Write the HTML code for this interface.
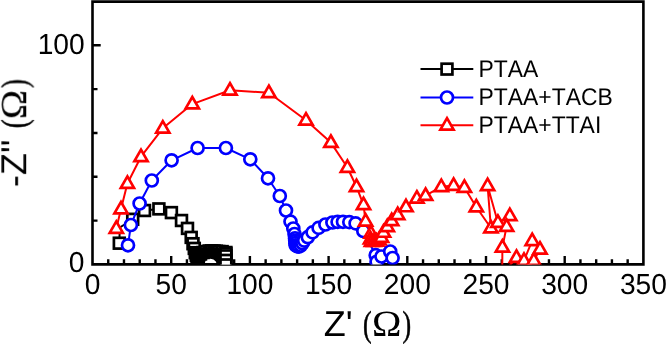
<!DOCTYPE html>
<html><head><meta charset="utf-8"><title>Nyquist plot</title>
<style>
html,body{margin:0;padding:0;background:#fff;}
body{width:666px;height:344px;overflow:hidden;}
svg{display:block;text-rendering:geometricPrecision;}
svg text{will-change:transform;font-kerning:none;font-feature-settings:"kern" 0;}
.s{font-family:"Liberation Sans",sans-serif;}
.r{font-family:"Liberation Serif",serif;}
</style></head><body>
<svg width="666" height="344" viewBox="0 0 666 344">
<defs><clipPath id="pc"><rect x="92" y="2" width="551" height="262.4"/></clipPath></defs>

<g stroke="#000" stroke-width="2.6" fill="none" stroke-linecap="butt">
<path d="M92.5 1.6H643.4V264.4H92.5Z" stroke-linejoin="miter"/>
<path d="M108.24 264.4v-5.2M123.98 264.4v-5.2M139.72 264.4v-5.2M155.46 264.4v-5.2M171.2 264.4v-8.4M186.94 264.4v-5.2M202.68 264.4v-5.2M218.42 264.4v-5.2M234.16 264.4v-5.2M249.9 264.4v-8.4M265.64 264.4v-5.2M281.38 264.4v-5.2M297.12 264.4v-5.2M312.86 264.4v-5.2M328.6 264.4v-8.4M344.34 264.4v-5.2M360.08 264.4v-5.2M375.82 264.4v-5.2M391.56 264.4v-5.2M407.3 264.4v-8.4M423.04 264.4v-5.2M438.78 264.4v-5.2M454.52 264.4v-5.2M470.26 264.4v-5.2M486 264.4v-8.4M501.74 264.4v-5.2M517.48 264.4v-5.2M533.22 264.4v-5.2M548.96 264.4v-5.2M564.7 264.4v-8.4M580.44 264.4v-5.2M596.18 264.4v-5.2M611.92 264.4v-5.2M627.66 264.4v-5.2M92.5 220.58h5.0M92.5 176.76h5.0M92.5 132.94h5.0M92.5 89.12h5.0M92.5 45.3h8.2" stroke-width="2.4"/>
</g>
<g clip-path="url(#pc)">
<polyline points="119.3,243.2 119.8,227.5 132.7,219.3 144.5,210.5 158.9,208.9 171.4,212.6 181.5,220.5 187.5,228.4 191.2,237.4 193,243.7 194.3,248.4 195.3,252.7 196.3,255.2 197.3,257.2 197.8,256.6 200.5,254 203,252.5 205.8,251.5 209.2,251 211.6,250.9 214,251 216.4,251.2 218.8,251.5 222.1,251.6 223.5,255.5 225.9,252.5 225.9,253.6 225.9,255.9 225.9,260.4 225.9,264.9" fill="none" stroke="#000" stroke-width="2.0" stroke-linejoin="round"/>
<g fill="#fff" stroke="#000" stroke-width="2.7" stroke-linejoin="miter">
<rect x="113.9" y="237.8" width="10.8" height="10.8"/>
<rect x="127.3" y="213.9" width="10.8" height="10.8"/>
<rect x="139.1" y="205.1" width="10.8" height="10.8"/>
<rect x="153.5" y="203.5" width="10.8" height="10.8"/>
<rect x="166" y="207.2" width="10.8" height="10.8"/>
<rect x="176.1" y="215.1" width="10.8" height="10.8"/>
<rect x="182.1" y="223" width="10.8" height="10.8"/>
<rect x="185.8" y="232" width="10.8" height="10.8"/>
<rect x="187.6" y="238.3" width="10.8" height="10.8"/>
<rect x="188.9" y="243" width="10.8" height="10.8"/>
<rect x="189.9" y="247.3" width="10.8" height="10.8"/>
<rect x="190.9" y="249.8" width="10.8" height="10.8"/>
<rect x="191.9" y="251.8" width="10.8" height="10.8"/>
<rect x="192.4" y="251.2" width="10.8" height="10.8"/>
<rect x="195.1" y="248.6" width="10.8" height="10.8"/>
<rect x="197.6" y="247.1" width="10.8" height="10.8"/>
<rect x="200.4" y="246.1" width="10.8" height="10.8"/>
<rect x="203.8" y="245.6" width="10.8" height="10.8"/>
<rect x="206.2" y="245.5" width="10.8" height="10.8"/>
<rect x="208.6" y="245.6" width="10.8" height="10.8"/>
<rect x="211" y="245.8" width="10.8" height="10.8"/>
<rect x="213.4" y="246.1" width="10.8" height="10.8"/>
<rect x="216.7" y="246.2" width="10.8" height="10.8"/>
<rect x="218.1" y="250.1" width="10.8" height="10.8"/>
<rect x="220.5" y="247.1" width="10.8" height="10.8"/>
<rect x="220.5" y="248.2" width="10.8" height="10.8"/>
<rect x="220.5" y="250.5" width="10.8" height="10.8"/>
<rect x="220.5" y="255" width="10.8" height="10.8"/>
<rect x="220.5" y="259.5" width="10.8" height="10.8"/>
</g>
<path d="M190.5 247.2H219.1V264H216.8L215.8 261.6L213.5 259.6L210.5 258.7L207.5 259L205.6 260.6L204.6 264H190.5Z" fill="#000"/>
<polyline points="128,245.3 130.9,225 139.6,203.5 151.8,180.5 171.6,160.3 197.6,148 225.9,148 250.3,159.3 268,178.3 279.8,196 286,210.5 290.5,221.6 293.3,228.5 294.5,234 295,238.3 295.2,240.8 295.4,243.2 295.7,245.3 297.2,246.3 299,246.6 300.8,245.5 302.5,243.2 304.2,240.6 307.8,237.2 312.6,232.4 318.6,227.9 325.4,224.5 332.4,222.5 337.6,221.9 343,221.8 349.3,222.1 355.6,223.4 363.3,231 375.7,255.2 376.6,261.8 381.5,256.5 390.2,251.5 392.6,258" fill="none" stroke="#00f" stroke-width="2.0" stroke-linejoin="round"/>
<g fill="#fff" stroke="#00f" stroke-width="2.7" stroke-linejoin="miter">
<circle cx="128" cy="245.3" r="6.0"/>
<circle cx="130.9" cy="225" r="6.0"/>
<circle cx="139.6" cy="203.5" r="6.0"/>
<circle cx="151.8" cy="180.5" r="6.0"/>
<circle cx="171.6" cy="160.3" r="6.0"/>
<circle cx="197.6" cy="148" r="6.0"/>
<circle cx="225.9" cy="148" r="6.0"/>
<circle cx="250.3" cy="159.3" r="6.0"/>
<circle cx="268" cy="178.3" r="6.0"/>
<circle cx="279.8" cy="196" r="6.0"/>
<circle cx="286" cy="210.5" r="6.0"/>
<circle cx="290.5" cy="221.6" r="6.0"/>
<circle cx="293.3" cy="228.5" r="6.0"/>
<circle cx="294.5" cy="234" r="6.0"/>
<circle cx="295" cy="238.3" r="6.0"/>
<circle cx="295.2" cy="240.8" r="6.0"/>
<circle cx="295.4" cy="243.2" r="6.0"/>
<circle cx="295.7" cy="245.3" r="6.0"/>
<circle cx="297.2" cy="246.3" r="6.0"/>
<circle cx="299" cy="246.6" r="6.0"/>
<circle cx="300.8" cy="245.5" r="6.0"/>
<circle cx="302.5" cy="243.2" r="6.0"/>
<circle cx="304.2" cy="240.6" r="6.0"/>
<circle cx="307.8" cy="237.2" r="6.0"/>
<circle cx="312.6" cy="232.4" r="6.0"/>
<circle cx="318.6" cy="227.9" r="6.0"/>
<circle cx="325.4" cy="224.5" r="6.0"/>
<circle cx="332.4" cy="222.5" r="6.0"/>
<circle cx="337.6" cy="221.9" r="6.0"/>
<circle cx="343" cy="221.8" r="6.0"/>
<circle cx="349.3" cy="222.1" r="6.0"/>
<circle cx="355.6" cy="223.4" r="6.0"/>
<circle cx="363.3" cy="231" r="6.0"/>
<circle cx="375.7" cy="255.2" r="6.0"/>
<circle cx="376.6" cy="261.8" r="6.0"/>
<circle cx="381.5" cy="256.5" r="6.0"/>
<circle cx="390.2" cy="251.5" r="6.0"/>
<circle cx="392.6" cy="258" r="6.0"/>
</g>
<polyline points="116.3,228.5 121,209 127.4,183.5 141,156.7 162.8,128.3 192.3,104.1 230,90.3 268.9,92.8 306,120.2 330.9,142.6 347.4,167.5 356.5,186.7 363.5,204.8 365.6,221.3 371,233.3 370.5,239 371.5,241.6 374,241.6 376.5,241.2 379,240 381.5,237.6 383.5,232.4 387.3,226.7 391.7,220.8 397.7,214.8 406,206.9 416.9,198.2 425.6,195.6 441.3,186.7 453.6,185.5 464.4,187.5 476.3,207 490.9,228 487.6,185.8 497.9,222.5 509.8,215.8 506.6,226.5 502.4,247.2 502.2,274.5 516.5,257.5 524,260.5 532.2,240.7 540,249.3 533.8,260.5" fill="none" stroke="#f00" stroke-width="2.0" stroke-linejoin="round"/>
<g fill="#fff" stroke="#f00" stroke-width="2.7" stroke-linejoin="miter">
<path d="M116.3 221.4L122.9 232.85H109.7Z"/>
<path d="M121 201.9L127.6 213.35H114.4Z"/>
<path d="M127.4 176.4L134 187.85H120.8Z"/>
<path d="M141 149.6L147.6 161.05H134.4Z"/>
<path d="M162.8 121.2L169.4 132.65H156.2Z"/>
<path d="M192.3 97L198.9 108.45H185.7Z"/>
<path d="M230 83.2L236.6 94.65H223.4Z"/>
<path d="M268.9 85.7L275.5 97.15H262.3Z"/>
<path d="M306 113.1L312.6 124.55H299.4Z"/>
<path d="M330.9 135.5L337.5 146.95H324.3Z"/>
<path d="M347.4 160.4L354 171.85H340.8Z"/>
<path d="M356.5 179.6L363.1 191.05H349.9Z"/>
<path d="M363.5 197.7L370.1 209.15H356.9Z"/>
<path d="M365.6 214.2L372.2 225.65H359Z"/>
<path d="M371 226.2L377.6 237.65H364.4Z"/>
<path d="M370.5 231.9L377.1 243.35H363.9Z"/>
<path d="M371.5 234.5L378.1 245.95H364.9Z"/>
<path d="M374 234.5L380.6 245.95H367.4Z"/>
<path d="M376.5 234.1L383.1 245.55H369.9Z"/>
<path d="M379 232.9L385.6 244.35H372.4Z"/>
<path d="M381.5 230.5L388.1 241.95H374.9Z"/>
<path d="M383.5 225.3L390.1 236.75H376.9Z"/>
<path d="M387.3 219.6L393.9 231.05H380.7Z"/>
<path d="M391.7 213.7L398.3 225.15H385.1Z"/>
<path d="M397.7 207.7L404.3 219.15H391.1Z"/>
<path d="M406 199.8L412.6 211.25H399.4Z"/>
<path d="M416.9 191.1L423.5 202.55H410.3Z"/>
<path d="M425.6 188.5L432.2 199.95H419Z"/>
<path d="M441.3 179.6L447.9 191.05H434.7Z"/>
<path d="M453.6 178.4L460.2 189.85H447Z"/>
<path d="M464.4 180.4L471 191.85H457.8Z"/>
<path d="M476.3 199.9L482.9 211.35H469.7Z"/>
<path d="M490.9 220.9L497.5 232.35H484.3Z"/>
<path d="M487.6 178.7L494.2 190.15H481Z"/>
<path d="M497.9 215.4L504.5 226.85H491.3Z"/>
<path d="M509.8 208.7L516.4 220.15H503.2Z"/>
<path d="M506.6 219.4L513.2 230.85H500Z"/>
<path d="M502.4 240.1L509 251.55H495.8Z"/>
<path d="M502.2 267.4L508.8 278.85H495.6Z"/>
<path d="M516.5 250.4L523.1 261.85H509.9Z"/>
<path d="M524 253.4L530.6 264.85H517.4Z"/>
<path d="M532.2 233.6L538.8 245.05H525.6Z"/>
<path d="M540 242.2L546.6 253.65H533.4Z"/>
<path d="M533.8 253.4L540.4 264.85H527.2Z"/>
</g>
</g>
<g class="s" font-size="28.2" fill="#000" text-anchor="middle">
<text transform="translate(92.5,294.2) scale(1,1.025)">0</text>
<text transform="translate(171.2,294.2) scale(1,1.025)">50</text>
<text transform="translate(249.9,294.2) scale(1,1.025)">100</text>
<text transform="translate(328.6,294.2) scale(1,1.025)">150</text>
<text transform="translate(407.3,294.2) scale(1,1.025)">200</text>
<text transform="translate(486,294.2) scale(1,1.025)">250</text>
<text transform="translate(564.7,294.2) scale(1,1.025)">300</text>
<text transform="translate(643.4,294.2) scale(1,1.025)">350</text>
</g>
<g class="s" font-size="28.2" fill="#000" text-anchor="end">
<text transform="translate(84.7,53.8) scale(1,1.025)">100</text>
<text transform="translate(84.5,272.3) scale(1,1.025)">0</text>
</g>
<g font-size="36" fill="#000">
<text class="s" x="323.8" y="336.1">Z'</text>
<text class="r" transform="translate(363,336.1) scale(0.72,1)" stroke="#000" stroke-width="0.6">(</text>
<text class="r" transform="translate(371.9,336.1) scale(1.1,1.025)">&#937;</text>
<text class="r" transform="translate(402.5,336.1) scale(0.72,1)" stroke="#000" stroke-width="0.6">)</text>
<g transform="translate(26.2,187.1) rotate(-90)">
<text class="s" x="0" y="0">-Z''</text>
<text class="r" transform="translate(58.9,0) scale(0.73,1)" stroke="#000" stroke-width="0.6">(</text>
<text class="r" transform="translate(67.85,0) scale(1.1,1.03)">&#937;</text>
<text class="r" transform="translate(99.3,0) scale(0.71,1)" stroke="#000" stroke-width="0.6">)</text>
</g></g>
<path d="M420.5 69.1H473.3" stroke="#000" stroke-width="2.0"/>
<g fill="#fff" stroke="#000" stroke-width="2.7"><rect x="441.6" y="63.7" width="10.8" height="10.8"/></g>
<text class="s" transform="translate(478.5,76.9) scale(1,1.052)" font-size="22.9">PTAA</text>
<path d="M420.5 97.5H473.3" stroke="#00f" stroke-width="2.0"/>
<g fill="#fff" stroke="#00f" stroke-width="2.7"><circle cx="447" cy="97.5" r="6.0"/></g>
<text class="s" transform="translate(478.5,105.5) scale(1,1.052)" font-size="22.9">PTAA+TACB</text>
<path d="M420.5 125.2H473.3" stroke="#f00" stroke-width="2.0"/>
<g fill="#fff" stroke="#f00" stroke-width="2.7"><path d="M447 118.1L453.6 129.55H440.4Z"/></g>
<text class="s" transform="translate(478.5,132.9) scale(1,1.052)" font-size="22.9">PTAA+TTAI</text>
</svg>
</body></html>
